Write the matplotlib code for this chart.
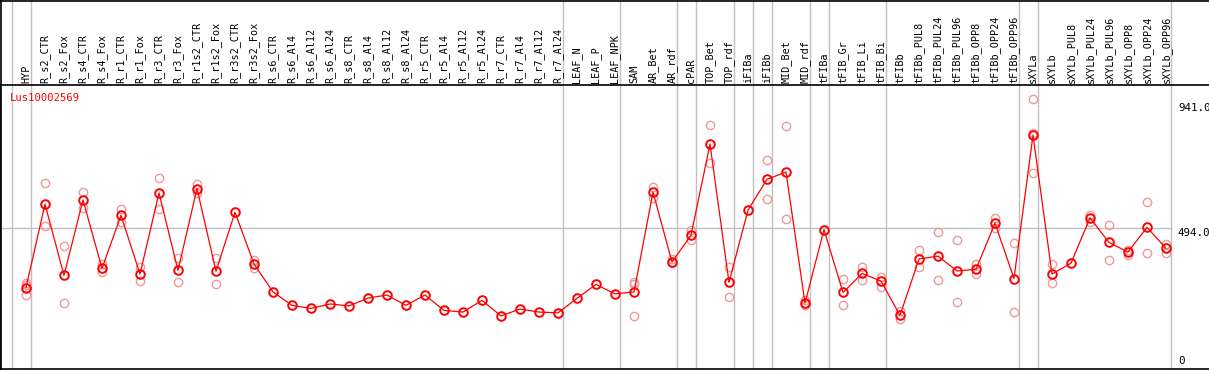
import matplotlib
matplotlib.use("Agg")
import matplotlib.pyplot as plt
import matplotlib.transforms as mtransforms

# sample names along the top
samples = [
    "HYP", "R_s2_CTR", "R_s2_Fox", "R_s4_CTR", "R_s4_Fox", "R_r1_CTR", "R_r1_Fox",
    "R_r3_CTR", "R_r3_Fox", "R_r1s2_CTR", "R_r1s2_Fox", "R_r3s2_CTR", "R_r3s2_Fox",
    "R_s6_CTR", "R_s6_Al4", "R_s6_Al12", "R_s6_Al24", "R_s8_CTR", "R_s8_Al4",
    "R_s8_Al12", "R_s8_Al24", "R_r5_CTR", "R_r5_Al4", "R_r5_Al12", "R_r5_Al24",
    "R_r7_CTR", "R_r7_Al4", "R_r7_Al12", "R_r7_Al24", "LEAF_N", "LEAF_P", "LEAF_NPK",
    "SAM", "AR_Bet", "AR_rdf", "cPAR", "TOP_Bet", "TOP_rdf", "iFIBa", "iFIBb",
    "MID_Bet", "MID_rdf", "tFIBa", "tFIB_Gr", "tFIB_Li", "tFIB_Bi", "tFIBb",
    "tFIBb_PUL8", "tFIBb_PUL24", "tFIBb_PUL96", "tFIBb_OPP8", "tFIBb_OPP24",
    "tFIBb_OPP96", "sXYLa", "sXYLb", "sXYLb_PUL8", "sXYLb_PUL24", "sXYLb_PUL96",
    "sXYLb_OPP8", "sXYLb_OPP24", "sXYLb_OPP96",
]

# group sizes (a gray separator follows each group)
groups = [1, 28, 3, 3, 1, 2, 1, 1, 2, 1, 3, 7, 1, 7]

# mean expression per sample
means = [
    280, 579, 324, 594, 349, 539, 329, 619, 342, 635, 339, 550, 365,
    265, 217, 206, 222, 215, 243, 254, 217, 254, 199, 193, 235,
    179, 204, 193, 190, 242, 292, 258,
    265, 622, 372, 468, 794, 299, 558, 668,
    694, 225, 488, 263, 331, 304, 181,
    383, 393, 340, 346, 511, 313, 826, 329,
    368, 530, 442, 408, 496, 421,
]

# individual replicates
replicates = [
    [298, 290, 253], [654, 500], [428, 225], [622, 565], [366, 336], [561, 514],
    [355, 303], [671, 563], [387, 299], [651, 619], [386, 292], [], [380, 352],
    [], [], [], [], [], [], [], [], [], [], [], [], [], [], [], [], [], [], [],
    [299, 292, 178], [640, 601], [382, 367], [485, 450], [862, 728], [354, 246],
    [], [737, 596], [858, 526], [218, 236], [], [310, 220], [354, 308], [319, 281],
    [197, 169], [415, 354], [478, 306], [450, 229], [366, 328], [530, 492],
    [439, 193], [957, 832, 689], [365, 297], [], [541, 517], [503, 378],
    [415, 398], [586, 403], [437, 404],
]

y_labels = [941.0, 494.0, 0]
gene = "Lus10002569"

W, H = 1209, 370
fig = plt.figure(figsize=(W / 100, H / 100), dpi=100)
top_px, bot_px = 85, 369
ax = fig.add_axes([0, (H - bot_px) / H, 1, (bot_px - top_px) / H])

# pixel -> data mapping: column i at x = 26 + 19*i, 0 at y=366, 941 at y=103
ax.set_xlim(-26 / 19, (W - 26) / 19)
k = (941.0 - 0) / (366 - 103)
ax.set_ylim(-(bot_px - 366) * k, (366 - top_px) * k)
ax.set_xticks([])
ax.set_yticks([])
for s in ["left", "top", "bottom"]:
    ax.spines[s].set_color("black")
    ax.spines[s].set_linewidth(1.2)
ax.spines["right"].set_visible(False)

x = list(range(len(samples)))
last_x = (1170.7 - 26) / 19

# horizontal reference line at middle value
ax.plot([ax.get_xlim()[0], last_x], [y_labels[1], y_labels[1]], color="#c0c0c0", lw=1.0, zorder=1)

# group separators, running up through the header
trans = mtransforms.blended_transform_factory(ax.transData, ax.transAxes)
seps = [-1]
pos = -1
for g in groups:
    pos += g
    seps.append(pos)
top_ax = (bot_px - 0) / (bot_px - top_px)
for s in seps:
    ax.plot([s + 0.24, s + 0.24], [0, top_ax], color="#c0c0c0", lw=1.0,
            transform=trans, clip_on=False, zorder=1)

# header labels
for i, name in enumerate(samples):
    ax.text(i, 1.0 + 2 / (bot_px - top_px), name, transform=trans, rotation=90,
            ha="center", va="bottom", fontsize=7.3, family="DejaVu Sans Mono",
            color="black")

# replicates
for i, reps in enumerate(replicates):
    ax.plot([i] * len(reps), reps, "o", ms=6, mfc="none", mec="#ee9a9a", mew=1.0,
            zorder=2, clip_on=False)

# mean line
ax.plot(x, means, "-o", color="#ff0000", lw=0.9, ms=6.2, mfc="none", mec="#ff0000",
        mew=1.4, zorder=3)

# gene name
ax.text(0.008, 0.955, gene, transform=ax.transAxes, color="#ff0000", fontsize=7.6,
        family="DejaVu Sans Mono", ha="left", va="center")

# right side value labels
ytrans = ax.get_yaxis_transform()
for v in y_labels:
    ax.text(1178 / W, v, f"{v:.1f}" if v else "0", transform=ytrans, fontsize=7.8,
            family="DejaVu Sans Mono", ha="left", va="bottom" if v == 0 else "top",
            clip_on=False)

# outer border top/left
fig.add_artist(plt.Line2D([0, 1], [1 - 0.5 / H, 1 - 0.5 / H], color="black", lw=1.2,
                          transform=fig.transFigure))
fig.add_artist(plt.Line2D([0.5 / W, 0.5 / W], [0, 1], color="black", lw=1.2,
                          transform=fig.transFigure))

fig.savefig("out.png", dpi=100)
